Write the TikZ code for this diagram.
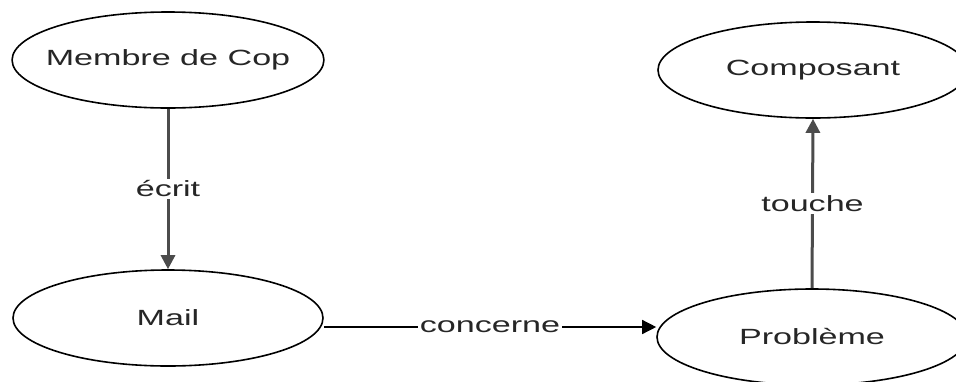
\documentclass[tikz,border=0pt]{standalone}
\usepackage{fontspec}
\setmainfont{Liberation Sans}[FakeStretch=1.55]
\usetikzlibrary{shapes.geometric,arrows.meta}
\tikzset{entity/.style={shape=ellipse,draw=black,line width=1.6pt,fill=white,
        minimum width=310pt,minimum height=96pt,inner xsep=-12pt,inner ysep=0pt,
        text=black!85,font=\fontsize{22}{26}\selectfont},
        rel/.style={-{Triangle[length=14pt,width=14pt]},line width=1.4pt,draw=black},
        relv/.style={rel,line width=3pt,draw=black!70},
        lab/.style={fill=white,inner sep=2pt,text=black!85,font=\fontsize{22}{26}\selectfont}}

\begin{document}
\begin{tikzpicture}[x=1pt,y=-1pt]
  \useasboundingbox (0,0) rectangle (956,381);
  \clip (0,0) rectangle (956,381);
  \node[entity] (membre) at (168,60) {Membre de Cop};
  \node[entity] (mail) at (168,318) {Mail};
  \node[entity] (composant) at (813,70) {Composant};
  \node[entity] (probleme) at (812,337) {Problème};
  % relations
  \draw[relv] (membre.south) -- node[lab] {écrit} (mail.north);
  \draw[relv] (probleme.north) -- node[lab] {touche} (composant.south);
  \draw[rel] ([yshift=-9pt]mail.east) -- node[lab] {concerne}
       ([yshift=-9pt]mail.east -| probleme.west);
\end{tikzpicture}
\end{document}
